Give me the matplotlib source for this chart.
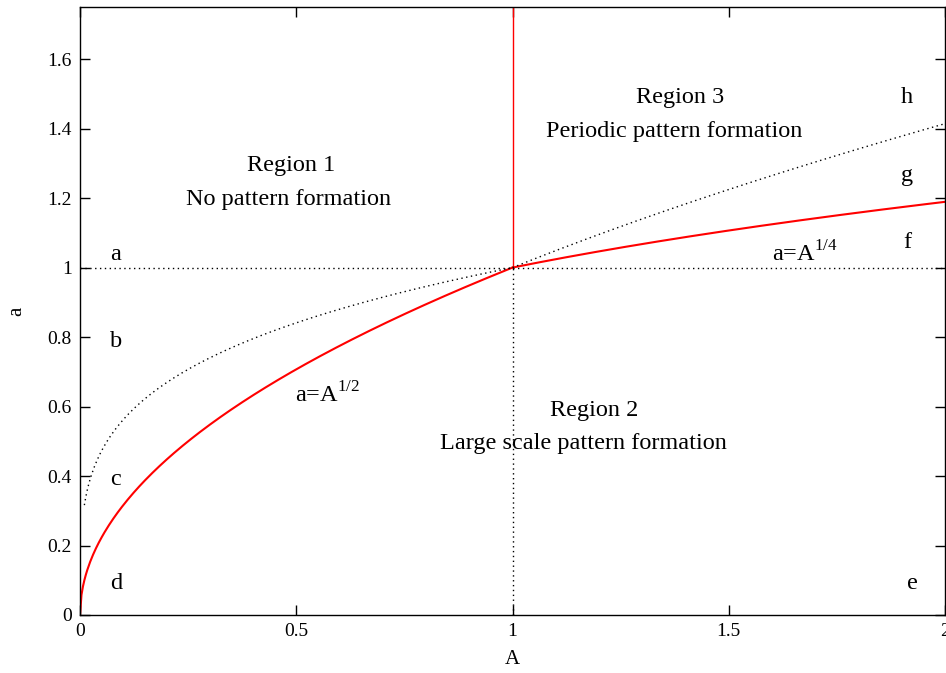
import numpy as np
from matplotlib import pyplot as plt

plt.rcParams['font.family'] = ['Liberation Serif', 'DejaVu Serif']
plt.rcParams['mathtext.fontset'] = 'custom'
plt.rcParams['mathtext.rm'] = 'Liberation Serif'

# boundary exponents: a = A^p
p_low = 1 / 2     # below A = 1
p_high = 1 / 4    # above A = 1
A_start = 0.01    # first sample of the dotted branch
A_cross = 1.0

x_ticks = [0, 0.5, 1, 1.5, 2]
x_tick_labels = ['0', '0.5', '1', '1.5', '2']
y_ticks = [0, 0.2, 0.4, 0.6, 0.8, 1, 1.2, 1.4, 1.6]
y_tick_labels = ['0', '0.2', '0.4', '0.6', '0.8', '1', '1.2', '1.4', '1.6']

region_text = [
    ('Region 1', 0.488, 1.295),
    ('No pattern formation', 0.482, 1.197),
    ('Region 3', 1.387, 1.49),
    ('Periodic pattern formation', 1.373, 1.392),
    ('Region 2', 1.188, 0.59),
    ('Large scale pattern formation', 1.165, 0.495),
]
corner_letters = ['a', 'b', 'c', 'd', 'e', 'f', 'g', 'h']
letter_A = [0.083, 0.083, 0.083, 0.083, 1.924, 1.912, 1.912, 1.912]
letter_a = [1.038, 0.788, 0.39, 0.09, 0.09, 1.073, 1.266, 1.49]

fig = plt.figure(figsize=(9.46, 6.73), dpi=100)
ax = fig.add_axes([0.0846, 0.0862, 0.9144, 0.9034])

# red solid boundary
A1 = np.linspace(0, A_cross, 300)
A2 = np.linspace(A_cross, 2, 300)
ax.plot(A1, A1 ** p_low, color='red', lw=1.5)
ax.plot(A2, A2 ** p_high, color='red', lw=1.5)
ax.plot([A_cross, A_cross], [1, 1.75], color='red', lw=1.0)

# dotted complementary branches
A3 = np.linspace(A_start, A_cross, 300)
ax.plot(A3, A3 ** p_high, color='black', lw=1.0, ls=(0, (1, 2.5)))
ax.plot(A2, A2 ** p_low, color='black', lw=1.0, ls=(0, (1, 2.5)))
ax.plot([0, 2], [1, 1], color='black', lw=1.0, ls=(0, (1, 2.5)))
ax.plot([A_cross, A_cross], [0, 1], color='black', lw=1.0, ls=(0, (1, 2.5)))

for txt, xx, yy in region_text:
    ax.text(xx, yy, txt, fontsize=17.5, ha='center', va='center')
for txt, xx, yy in zip(corner_letters, letter_A, letter_a):
    ax.text(xx, yy, txt, fontsize=17.5, ha='center', va='center')

ax.text(0.573, 0.635, r'a=A$^{1/2}$', fontsize=17.5, ha='center', va='center')
ax.text(1.676, 1.04, r'a=A$^{1/4}$', fontsize=17.5, ha='center', va='center')

ax.set_xlim(0, 2)
ax.set_ylim(0, 1.75)
ax.set_xticks(x_ticks)
ax.set_xticklabels(x_tick_labels)
ax.set_yticks(y_ticks)
ax.set_yticklabels(y_tick_labels)
ax.tick_params(direction='in', length=7, width=1, labelsize=14,
               top=True, right=True, pad=6)
for s in ax.spines.values():
    s.set_linewidth(1)

ax.set_xlabel('A', fontsize=15)
ax.set_ylabel('a', fontsize=15)
ax.xaxis.set_label_coords(0.5, -0.058)
ax.yaxis.set_label_coords(-0.062, 0.5)

fig.savefig('out.png', dpi=100)
